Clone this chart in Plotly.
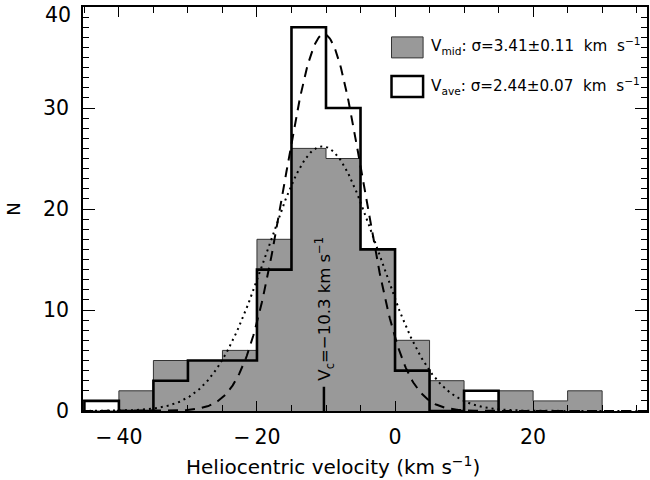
import numpy as np
import plotly.graph_objects as go

# ---- data ----
bin_width = 5
gray_start = -45
gray_counts = [0, 2, 5, 5, 6, 17, 26, 25, 16, 7, 3, 1, 2, 1, 2]      # V_mid, bins from -45 to 30
white_start = -45
white_counts = [1, 0, 3, 5, 5, 14, 38, 30, 16, 4, 0, 2]             # V_ave, bins from -45 to 15

VC = -10.3
dash_amp, dash_mu, dash_sig = 37.3, -10.3, 5.7
dot_amp, dot_mu, dot_sig = 26.2, -10.5, 8.0

x_ticks = [-40, -20, 0, 20]
y_ticks = [0, 10, 20, 30, 40]
x_range = [-45.2, 36.5]
y_range = [0, 40]

legend_mid = "V<sub>mid</sub>: σ=3.41±0.11  km  s<sup>−1</sup>"
legend_ave = "V<sub>ave</sub>: σ=2.44±0.07  km  s<sup>−1</sup>"
vc_label = "V<sub>c</sub>=−10.3 km s<sup>−1</sup>"
x_title = "Heliocentric velocity (km s<sup>−1</sup>)"

FONT = "DejaVu Sans"
TICK_SIZE = 20.5


def step_path(start, counts):
    edges = start + bin_width * np.arange(len(counts) + 1)
    xs, ys = [edges[0]], [0]
    for i, c in enumerate(counts):
        xs += [edges[i], edges[i + 1]]
        ys += [c, c]
    xs.append(edges[-1])
    ys.append(0)
    return xs, ys


fig = go.Figure()

gx, gy = step_path(gray_start, gray_counts)
fig.add_trace(go.Scatter(x=gx, y=gy, mode="lines", fill="toself",
                         fillcolor="#999999", line=dict(color="#333333", width=1),
                         hoverinfo="skip"))

wx, wy = step_path(white_start, white_counts)
fig.add_trace(go.Scatter(x=wx, y=wy, mode="lines",
                         line=dict(color="black", width=2.6), hoverinfo="skip"))

xc = np.linspace(x_range[0], x_range[1], 600)
fig.add_trace(go.Scatter(x=xc, y=dash_amp * np.exp(-0.5 * ((xc - dash_mu) / dash_sig) ** 2),
                         mode="lines", line=dict(color="black", width=2, dash="10px,7px")))
fig.add_trace(go.Scatter(x=xc, y=dot_amp * np.exp(-0.5 * ((xc - dot_mu) / dot_sig) ** 2),
                         mode="lines", line=dict(color="black", width=2, dash="2px,4px")))

# Vc marker
fig.add_shape(type="line", x0=VC, x1=VC, y0=0, y1=2.4, xref="x", yref="y",
              line=dict(color="black", width=2.5))
fig.add_annotation(x=VC, y=2.8, xref="x", yref="y", text=vc_label, textangle=-90,
                   showarrow=False, xanchor="center", yanchor="bottom",
                   font=dict(family=FONT, size=16.5, color="black"))

# legend boxes
fig.add_shape(type="rect", xref="paper", yref="paper", x0=0.547, x1=0.603, y0=0.874, y1=0.926,
              fillcolor="#999999", line=dict(color="#333333", width=1))
fig.add_shape(type="rect", xref="paper", yref="paper", x0=0.547, x1=0.603, y0=0.777, y1=0.829,
              fillcolor="white", line=dict(color="black", width=2.5))
fig.add_annotation(x=0.614, y=0.901, xref="paper", yref="paper", text=legend_mid,
                   showarrow=False, xanchor="left", yanchor="middle",
                   font=dict(family=FONT, size=15.2, color="black"))
fig.add_annotation(x=0.614, y=0.804, xref="paper", yref="paper", text=legend_ave,
                   showarrow=False, xanchor="left", yanchor="middle",
                   font=dict(family=FONT, size=15.2, color="black"))

# top y label (drawn slightly below its tick, as in the reference)
fig.add_annotation(x=0, y=y_ticks[-1], xref="paper", yref="y", text=str(y_ticks[-1]),
                   showarrow=False, xanchor="right", yanchor="middle", xshift=-10, yshift=-8,
                   font=dict(family=FONT, size=TICK_SIZE, color="black"))

# x-axis title
fig.add_annotation(x=0.443, y=-0.136, xref="paper", yref="paper", text=x_title,
                   showarrow=False, xanchor="center", yanchor="middle",
                   font=dict(family=FONT, size=20, color="black"))

fig.update_xaxes(range=x_range, tickvals=x_ticks,
                 ticktext=[("−\u2009" + str(-v)) if v < 0 else str(v) for v in x_ticks],
                 ticks="inside", ticklen=10, tickwidth=1.3, tickcolor="black",
                 minor=dict(dtick=5, tick0=0, ticks="inside", ticklen=6, tickcolor="black", tickwidth=1.2),
                 showline=True, linecolor="black", linewidth=1.5, mirror="allticks",
                 showgrid=False, zeroline=False,
                 tickfont=dict(family=FONT, size=TICK_SIZE, color="black"),
                 ticklabelstandoff=7)
fig.update_yaxes(range=y_range, tickvals=y_ticks,
                 ticktext=[str(v) for v in y_ticks[:-1]] + [""],
                 ticks="inside", ticklen=12, tickwidth=1.3, tickcolor="black",
                 minor=dict(dtick=1, tick0=0, ticks="inside", ticklen=6, tickcolor="black", tickwidth=1.2),
                 showline=True, linecolor="black", linewidth=1.5, mirror="allticks",
                 showgrid=False, zeroline=False,
                 tickfont=dict(family=FONT, size=TICK_SIZE, color="black"),
                 ticklabelstandoff=8,
                 title=dict(text="N", font=dict(family=FONT, size=18, color="black"), standoff=18))

fig.update_layout(width=650, height=480, showlegend=False,
                  margin=dict(l=83, r=1, t=7, b=69),
                  plot_bgcolor="white", paper_bgcolor="white")

fig.write_html("out.html")
